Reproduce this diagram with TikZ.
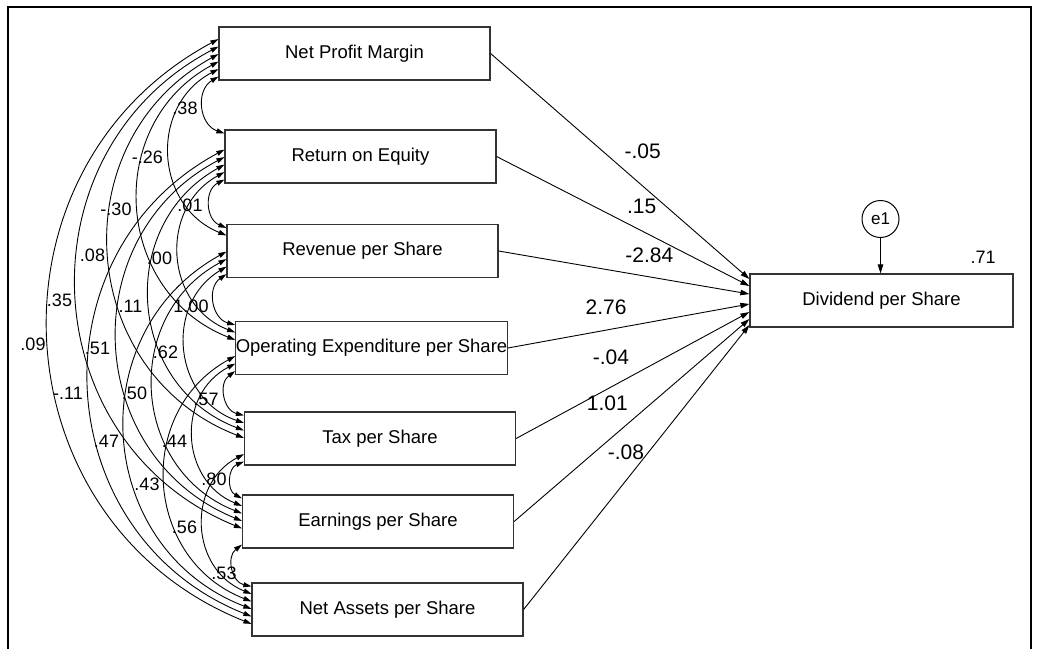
\documentclass[tikz,border=0pt]{standalone}
\usepackage{fontspec}
\setmainfont{Liberation Sans}
\usetikzlibrary{arrows.meta,calc}
% covariance arc between the left sides of two boxes:
% #1 upper box, #2 offset above its bottom-left corner,
% #3 lower box, #4 offset below its top-left corner
\newcommand\drawcov[4]{%
  \draw[cov] ([yshift=#2pt]#1.south west) to[bend right=65, looseness=1.2] ([yshift=-#4pt]#3.north west);}
\begin{document}
\begin{tikzpicture}[x=1pt,y=-1pt,
  var/.style={draw=black!80, line width=1.2pt, minimum width=271pt, minimum height=53pt,
    inner sep=0pt, font=\fontsize{18.5}{20}\selectfont},
  cov/.style={line width=0.9pt,
    {Triangle[length=8pt,width=5pt]}-{Triangle[length=8pt,width=5pt]}},
  regarrow/.style={line width=0.9pt, -{Triangle[length=9pt,width=5.5pt]}},
  coef/.style={inner sep=0pt, font=\fontsize{21}{23}\selectfont},
  corr/.style={inner sep=0pt, font=\fontsize{18}{20}\selectfont}]
\useasboundingbox (0,0) rectangle (1040,649);

% frame
\draw[line width=2pt] (8,649) -- (8,7) -- (1031,7) -- (1031,649);

% observed variables
\node[var] (NPM)  at (354.5,53.5)  {Net Profit Margin};
\node[var] (ROE)  at (360.5,156.5) {Return on Equity};
\node[var] (RPS)  at (362.5,251)   {Revenue per Share};
\node[var] (OEPS) at (371.5,348)   {Operating Expenditure per Share};
\node[var] (TAX)  at (380,438.5)   {Tax per Share};
\node[var] (EPS)  at (378,521.5)   {Earnings per Share};
\node[var] (NAPS) at (387.5,609.5) {Net Assets per Share};
\node[var, minimum width=263pt] (DPS) at (881.5,300.5) {Dividend per Share};

% error term
\node[draw, circle, line width=1pt, minimum size=37pt, inner sep=0pt,
  font=\fontsize{17}{19}\selectfont] (E1) at (880.5,219) {e1};
\draw[regarrow] (E1.south) -- (E1.south |- DPS.north);
\node[corr] (R2) at (983,257) {.71};

% regression paths
\draw[regarrow] (NPM.east)  -- ([yshift=21.5pt]DPS.west);
\draw[regarrow] (ROE.east)  -- ([yshift=14.5pt]DPS.west);
\draw[regarrow] (RPS.east)  -- ([yshift=6.5pt]DPS.west);
\draw[regarrow] (OEPS.east) -- ([yshift=-3.5pt]DPS.west);
\draw[regarrow] (TAX.east)  -- ([yshift=-11.5pt]DPS.west);
\draw[regarrow] (EPS.east)  -- ([yshift=-18.5pt]DPS.west);
\draw[regarrow] (NAPS.east) -- ([yshift=-24.5pt]DPS.west);

\node[coef] (bNPM)  at (642.7,151.7) {-.05};
\node[coef] (bROE)  at (641.7,206)   {.15};
\node[coef] (bRPS)  at (649.3,255)   {-2.84};
\node[coef] (bOEPS) at (606,307.3)   {2.76};
\node[coef] (bTAX)  at (611,357.3)   {-.04};
\node[coef] (bEPS)  at (607.3,403.3) {1.01};
\node[coef] (bNAPS) at (626,452)     {-.08};

% covariances, adjacent boxes
\drawcov{NPM}{4}{ROE}{4}
\drawcov{ROE}{4}{RPS}{4}
\drawcov{RPS}{4}{OEPS}{4}
\drawcov{OEPS}{4}{TAX}{4}
\drawcov{TAX}{4}{EPS}{4}
\drawcov{EPS}{4}{NAPS}{4}
% two apart
\drawcov{NPM}{11.5}{RPS}{11.5}
\drawcov{ROE}{11.5}{OEPS}{11.5}
\drawcov{RPS}{11.5}{TAX}{11.5}
\drawcov{OEPS}{11.5}{EPS}{11.5}
\drawcov{TAX}{11.5}{NAPS}{11.5}
% three apart
\drawcov{NPM}{19}{OEPS}{19}
\drawcov{ROE}{19}{TAX}{19}
\drawcov{RPS}{19}{EPS}{19}
\drawcov{OEPS}{19}{NAPS}{19}
% four apart
\drawcov{NPM}{26.5}{TAX}{26.5}
\drawcov{ROE}{26.5}{EPS}{26.5}
\drawcov{RPS}{26.5}{NAPS}{26.5}
% five and six apart
\drawcov{NPM}{34}{EPS}{34}
\drawcov{ROE}{34}{NAPS}{34}
\drawcov{NPM}{41.5}{NAPS}{41.5}

% correlation labels
\node[corr] (rNPMROE)   at (185,108)   {.38};
\node[corr] (rNPMRPS)   at (147.5,157) {-.26};
\node[corr] (rROERPS)   at (190,205)   {.01};
\node[corr] (rNPMOEPS)  at (116,209)   {-.30};
\node[corr] (rNPMTAX)   at (92.5,255)  {.08};
\node[corr] (rROEOEPS)  at (159.5,258) {.00};
\node[corr] (rNPMEPS)   at (59.5,300)  {.35};
\node[corr] (rROETAX)   at (130.5,306) {.11};
\node[corr] (rRPSOEPS)  at (191,306)   {1.00};
\node[corr] (rNPMNAPS)  at (33,344)    {.09};
\node[corr] (rROEEPS)   at (97.5,348)  {.51};
\node[corr] (rRPSTAX)   at (165.5,352) {.62};
\node[corr] (rROENAPS)  at (68,393)    {-.11};
\node[corr] (rRPSEPS)   at (134.5,393) {.50};
\node[corr] (rOEPSTAX)  at (206,399)   {.57};
\node[corr] (rRPSNAPS)  at (106.5,441) {.47};
\node[corr] (rOEPSEPS)  at (174.5,441) {.44};
\node[corr] (rTAXEPS)   at (214,479)   {.80};
\node[corr] (rOEPSNAPS) at (147,484)   {.43};
\node[corr] (rTAXNAPS)  at (184.5,527) {.56};
\node[corr] (rEPSNAPS)  at (224,573)   {.53};
\end{tikzpicture}
\end{document}
